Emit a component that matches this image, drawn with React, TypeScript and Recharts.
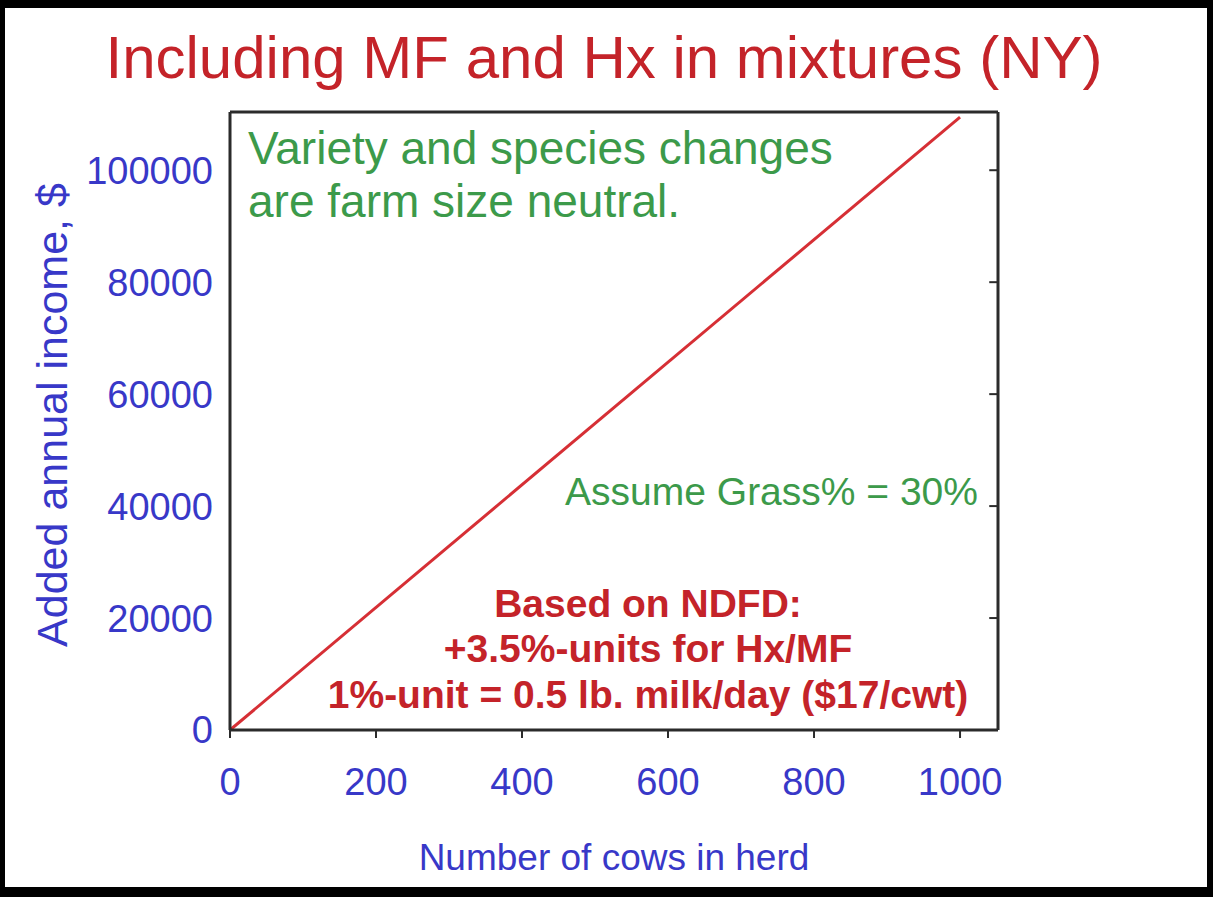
import React from 'react';
import { LineChart, Line, XAxis, YAxis, ReferenceLine } from 'recharts';

// herd size (cows) vs added annual income ($)
const cows = [0, 1000];
const addedIncome = [0, 109500];
const xTicks = [0, 200, 400, 600, 800, 1000];
const yTicks = [0, 20000, 40000, 60000, 80000, 100000];
const xMax = 1052;
const yMax = 110400;
// length of the inner right-hand y tick marks, in cows
const innerTick = 12;

const chartData = cows.map((c, i) => ({ cows: c, income: addedIncome[i] }));

const FONT = '"Liberation Sans", Arial, Helvetica, sans-serif';
const BLUE = '#3838c8';
const AXIS = '#2b2b2b';
const GREEN = '#3c9a4a';
const RED = '#c42329';

const tickText = { fill: BLUE, fontSize: 38, fontFamily: FONT };

const App: React.FC = () => {
    return (
        <div style={{ position: 'absolute', left: 0, top: 0, width: 1213, height: 897, background: '#fff' }}>
            <LineChart
                width={1213}
                height={897}
                data={chartData}
                margin={{ top: 112, right: 0, left: 0, bottom: 0 }}
            >
                <XAxis
                    dataKey="cows"
                    type="number"
                    domain={[0, xMax]}
                    ticks={xTicks}
                    height={167}
                    axisLine={{ stroke: AXIS, strokeWidth: 3 }}
                    tickLine={{ stroke: AXIS, strokeWidth: 2 }}
                    tickSize={8}
                    tickMargin={30}
                    tick={tickText}
                    interval={0}
                />
                <YAxis
                    yAxisId="left"
                    type="number"
                    domain={[0, yMax]}
                    ticks={yTicks}
                    width={230}
                    interval={0}
                    tickSize={0}
                    tickMargin={17}
                    tickLine={false}
                    axisLine={{ stroke: AXIS, strokeWidth: 3 }}
                    tick={tickText}
                />
                {/* mirrored copy of the left axis: only its tick marks, turned into the plot */}
                <YAxis
                    yAxisId="leftMarks"
                    type="number"
                    domain={[0, yMax]}
                    ticks={yTicks}
                    width={0}
                    mirror
                    interval={0}
                    tickSize={8}
                    tick={false}
                    tickLine={{ stroke: AXIS, strokeWidth: 2 }}
                    axisLine={false}
                />
                <YAxis
                    yAxisId="right"
                    orientation="right"
                    type="number"
                    domain={[0, yMax]}
                    ticks={yTicks}
                    width={215}
                    interval={0}
                    tickSize={0}
                    tickMargin={22}
                    tickLine={false}
                    axisLine={{ stroke: AXIS, strokeWidth: 3 }}
                    tick={tickText}
                />
                {/* top edge of the plot frame */}
                <ReferenceLine yAxisId="left" y={yMax} stroke={AXIS} strokeWidth={3} ifOverflow="extendDomain" />
                {yTicks.map((v) => (
                    <ReferenceLine
                        key={`tick-right-${v}`}
                        yAxisId="left"
                        segment={[{ x: xMax - innerTick, y: v }, { x: xMax, y: v }]}
                        stroke={AXIS}
                        strokeWidth={2}
                        ifOverflow="visible"
                    />
                ))}
                <Line
                    yAxisId="left"
                    type="linear"
                    dataKey="income"
                    stroke="#d62f35"
                    strokeWidth={3}
                    dot={false}
                    isAnimationActive={false}
                />

                {/* title */}
                <text x={604} y={78} textAnchor="middle" fill={RED} fontSize={60} fontFamily={FONT}>
                    Including MF and Hx in mixtures (NY)
                </text>

                {/* axis titles */}
                <text
                    x={52}
                    y={415}
                    transform="rotate(-90 52 415)"
                    textAnchor="middle"
                    dy="0.355em"
                    fill={BLUE}
                    fontSize={43}
                    fontFamily={FONT}
                >
                    Added annual income, $
                </text>
                <text x={614} y={870} textAnchor="middle" fill={BLUE} fontSize={37} fontFamily={FONT}>
                    Number of cows in herd
                </text>

                {/* notes inside the plot */}
                <text fill={GREEN} fontSize={46} fontFamily={FONT}>
                    <tspan x={248} y={164}>Variety and species changes</tspan>
                    <tspan x={248} y={217}>are farm size neutral.</tspan>
                </text>
                <text x={978} y={505} textAnchor="end" fill={GREEN} fontSize={39} fontFamily={FONT}>
                    Assume Grass% = 30%
                </text>
                <text fill={RED} fontSize={39} fontWeight="bold" fontFamily={FONT} textAnchor="middle">
                    <tspan x={648} y={617}>Based on NDFD:</tspan>
                    <tspan x={648} y={662}>+3.5%-units for Hx/MF</tspan>
                    <tspan x={648} y={708}>1%-unit = 0.5 lb. milk/day ($17/cwt)</tspan>
                </text>
            </LineChart>
            {/* outer frame */}
            <div
                style={{
                    position: 'absolute',
                    inset: 0,
                    boxSizing: 'border-box',
                    borderStyle: 'solid',
                    borderColor: '#000',
                    borderWidth: '8px 6px 10px 5px',
                    pointerEvents: 'none',
                }}
            />
        </div>
    );
};

export default App;
